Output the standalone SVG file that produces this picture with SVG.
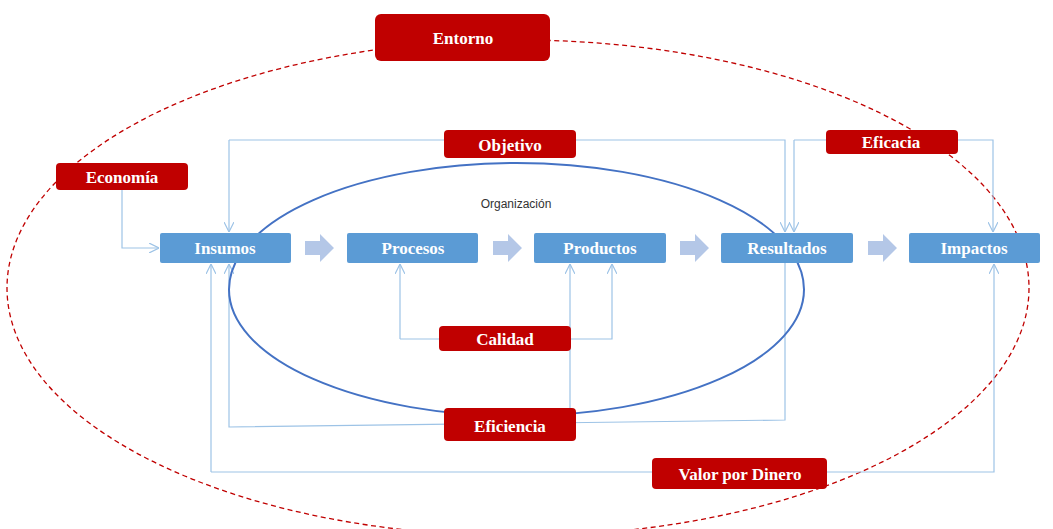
<svg xmlns="http://www.w3.org/2000/svg" width="1053" height="529" viewBox="0 0 1053 529">
<defs>
<marker id="arr" viewBox="0 0 10 10" refX="10" refY="5" markerWidth="10" markerHeight="10" markerUnits="userSpaceOnUse" orient="auto">
<path d="M0,0 L10,5 L0,10" fill="none" stroke="#9DC3E6" stroke-width="1.2"/>
</marker>
</defs>
<style>
.red{fill:#C00000;}
.blue{fill:#5B9BD5;}
.lbl{font-family:"Liberation Serif","DejaVu Serif",serif;font-weight:bold;font-size:17px;fill:#FFFFFF;text-anchor:middle;dominant-baseline:central;}
.con{fill:none;stroke:#9DC3E6;stroke-width:1.2;}
.blk{fill:#B4C7E7;}
</style>
<rect width="1053" height="529" fill="#FFFFFF"/>
<ellipse cx="518" cy="288" rx="511" ry="248" fill="none" stroke="#C00000" stroke-width="1.3" stroke-dasharray="5 3.5"/>
<g id="connectors">
<path class="con" d="M122,189 V248 H159" marker-end="url(#arr)"/>
<path class="con" d="M229,140 H785 V232" marker-end="url(#arr)"/>
<path class="con" d="M229,140 V232" marker-end="url(#arr)"/>
<path class="con" d="M794,140 H993 V232" marker-end="url(#arr)"/>
<path class="con" d="M794,140 V232" marker-end="url(#arr)"/>
<path class="con" d="M400,339 H612 V264" marker-end="url(#arr)"/>
<path class="con" d="M400,339 V264" marker-end="url(#arr)"/>
<path class="con" d="M570,408 V264" marker-end="url(#arr)"/>
<path class="con" d="M785,263 V420 L229,427 V264" marker-end="url(#arr)"/>
<path class="con" d="M211,472 H994 V264" marker-end="url(#arr)"/>
<path class="con" d="M211,472 V264" marker-end="url(#arr)"/>
<path class="blk" d="M305,241 H320 V234 L334,248 L320,262 V255 H305 Z"/>
<path class="blk" d="M493,241 H508 V234 L522,248 L508,262 V255 H493 Z"/>
<path class="blk" d="M680,241 H695 V234 L709,248 L695,262 V255 H680 Z"/>
<path class="blk" d="M868,241 H883 V234 L897,248 L883,262 V255 H868 Z"/>
</g>
<g id="organizacion">
<ellipse cx="516.5" cy="289.5" rx="287.5" ry="126.5" fill="none" stroke="#4472C4" stroke-width="2"/>
<text x="516" y="204" font-family="Liberation Sans, Arial, sans-serif" font-size="12" fill="#333333" text-anchor="middle" dominant-baseline="central">Organización</text>
</g>
<g id="insumos"><rect class="blue" x="160" y="233" width="131" height="30" rx="2"/><text class="lbl" x="225" y="248">Insumos</text></g>
<g id="procesos"><rect class="blue" x="347" y="233" width="131" height="30" rx="2"/><text class="lbl" x="413" y="248">Procesos</text></g>
<g id="productos"><rect class="blue" x="534" y="233" width="132" height="30" rx="2"/><text class="lbl" x="600" y="248">Productos</text></g>
<g id="resultados"><rect class="blue" x="721" y="233" width="132" height="30" rx="2"/><text class="lbl" x="787" y="248">Resultados</text></g>
<g id="impactos"><rect class="blue" x="909" y="233" width="131" height="30" rx="2"/><text class="lbl" x="974" y="248">Impactos</text></g>
<g id="entorno"><rect class="red" x="375" y="14" width="175" height="47" rx="6"/><text class="lbl" x="463" y="38">Entorno</text></g>
<g id="objetivo"><rect class="red" x="444" y="130" width="132" height="28" rx="4"/><text class="lbl" x="510" y="145">Objetivo</text></g>
<g id="economia"><rect class="red" x="56" y="163" width="132" height="27" rx="4"/><text class="lbl" x="122" y="177">Economía</text></g>
<g id="eficacia"><rect class="red" x="826" y="130" width="132" height="24" rx="4"/><text class="lbl" x="891" y="142">Eficacia</text></g>
<g id="calidad"><rect class="red" x="439" y="326" width="132" height="25" rx="4"/><text class="lbl" x="505" y="339">Calidad</text></g>
<g id="eficiencia"><rect class="red" x="444" y="408" width="132" height="33" rx="4"/><text class="lbl" x="510" y="426">Eficiencia</text></g>
<g id="valor"><rect class="red" x="652" y="458" width="175" height="31" rx="4"/><text class="lbl" x="740" y="474">Valor por Dinero</text></g>
</svg>
